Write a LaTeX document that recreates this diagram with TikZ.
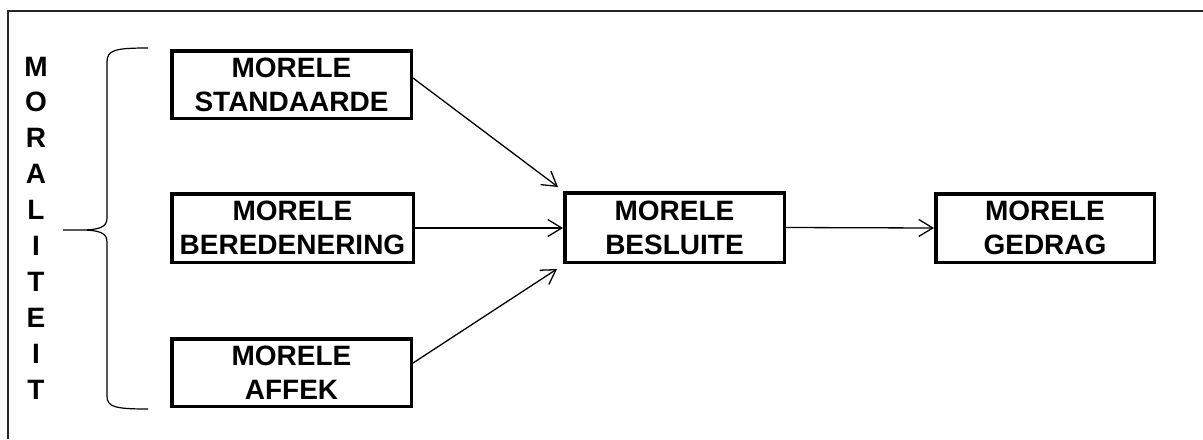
\documentclass[tikz,border=0pt]{standalone}
\usepackage{fontspec}
\setmainfont{Liberation Sans}
\usetikzlibrary{arrows.meta,calc}
\begin{document}
\begin{tikzpicture}[x=0.5pt,y=-0.5pt,
  stagebox/.style={draw,line width=1.75pt,inner sep=0pt,align=center,
    font=\fontsize{14pt}{17pt}\selectfont\bfseries},
  link/.style={line width=0.65pt,-{Straight Barb[length=7pt,width=8.5pt,line width=0.65pt]}},
  frame/.style={line width=0.8pt,draw=black!85},
  bracestyle/.style={line width=0.6pt}]
\useasboundingbox (0,0) rectangle (1203,439);
\draw[frame] (8,439) -- (8,11) -- (1203,11);
\node[inner sep=0pt,align=center,font=\fontsize{14pt}{17.95pt}\selectfont\bfseries] (moral) at (36,228)
  {M\\O\\R\\A\\L\\I\\T\\E\\I\\T};
\draw[bracestyle] (148,48) .. controls (115,48) and (107,50) .. (107,62) -- (107,218)
  .. controls (107,227) and (100,230) .. (80,230) -- (63,230) -- (80,230)
  .. controls (100,230) and (107,233) .. (107,242) -- (107,396)
  .. controls (107,407) and (115,409) .. (148,409);
\node[stagebox,minimum width=119.75pt,minimum height=33.75pt] (s1) at (291.5,84.5) {MORELE\\STANDAARDE};
\node[stagebox,minimum width=120.75pt,minimum height=34.25pt] (s2) at (292.5,228) {MORELE\\BEREDENERING};
\node[stagebox,minimum width=119.75pt,minimum height=33.75pt] (s3) at (291.5,372.5) {MORELE\\AFFEK};
\node[stagebox,minimum width=109.75pt,minimum height=34.75pt] (b) at (674.5,227.5) {MORELE\\BESLUITE};
\node[stagebox,minimum width=109.25pt,minimum height=34.25pt] (g) at (1045,228) {MORELE\\GEDRAG};
\draw[link] ($(s1.east)+(0,-6.5)$) -- ($(b.north west)+(-5,-4)$);
\draw[link] (s2.east) -- (s2.east -| b.west);
\draw[link] ($(s3.east)+(0,-9.5)$) -- ($(b.south west)+(-6,5)$);
\draw[link] (b.east) -- (g.west);
\end{tikzpicture}
\end{document}
